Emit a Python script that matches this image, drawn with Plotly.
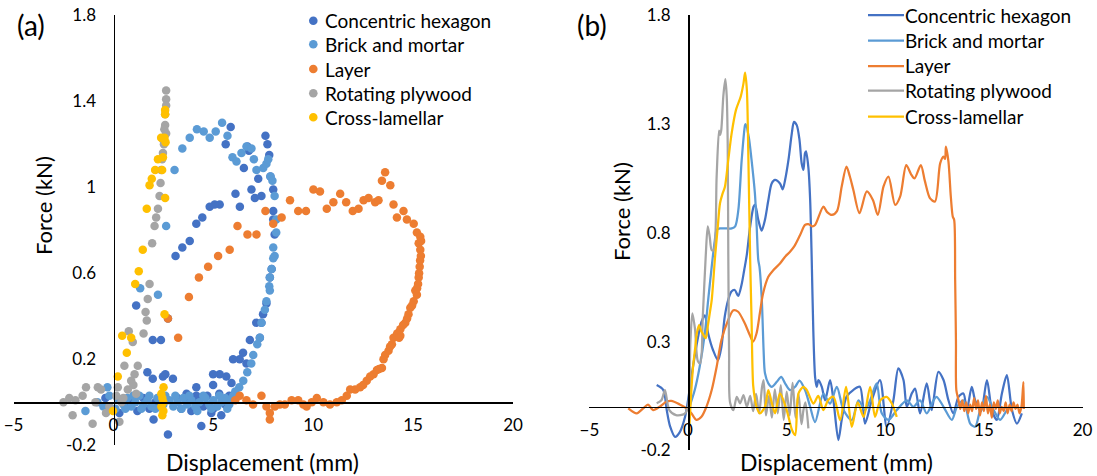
import plotly.graph_objects as go

# ---------------- (a) scatter data: (displacement mm, force kN) ----------------
hex_pts = [
    (5.87,1.28),(5.62,1.20),(7.61,1.24),(7.71,1.20),(6.71,1.19),(6.78,1.17),(7.80,1.15),(6.53,1.09),
    (7.25,1.04),(7.86,1.05),(8.00,0.99),(6.91,0.99),(7.08,0.95),(7.41,0.96),(6.11,0.97),(6.33,0.91),
    (5.32,0.92),(5.07,0.92),(4.82,0.91),(4.45,0.86),(4.15,0.83),(3.82,0.75),(3.45,0.72),(3.11,0.68),
    (8.00,0.89),(8.00,0.85),(8.07,0.78),(7.92,0.62),(7.83,0.58),(7.66,0.46),(7.49,0.41),(7.41,0.37),
    (7.33,0.30),(7.15,0.37),(6.83,0.29),(6.49,0.23),(6.32,0.20),(5.99,0.20),(6.66,0.18),(5.65,0.12),
    (5.32,0.13),(5.91,0.09),(4.99,0.13),(4.99,0.08),(4.15,0.07),(1.14,0.45),(2.73,0.39),(1.97,0.29),
    (2.38,0.29),(1.97,0.11),(2.48,0.12),(2.98,0.11),(3.66,0.04),(4.15,0.03),(1.70,0.14),(2.60,0.13),
    (2.01,-0.08),(2.73,-0.15),(4.40,-0.11),(4.90,-0.05),(5.40,-0.06),(0.30,-0.05),(0.60,-0.02),
    (0.90,0.01),(1.20,-0.04),(1.50,0.02),(1.80,-0.03),(2.10,0.00),(3.20,0.02),(3.40,-0.03),(3.70,0.01),
    (3.90,-0.04),(4.20,0.02),(4.50,-0.02),(4.70,0.03),(5.00,-0.03),(5.30,0.04),(5.60,-0.01),(5.80,0.03),
    (-0.40,0.02),
]
brick_pts = [
    (5.44,1.30),(5.12,1.26),(4.82,1.23),(4.52,1.26),(4.18,1.27),(3.82,1.23),(3.45,1.18),(3.06,1.08),
    (2.64,0.82),(5.71,1.24),(5.96,1.14),(6.16,1.12),(6.41,1.16),(6.66,1.19),(6.91,1.18),(7.03,1.13),
    (7.16,1.08),(7.50,1.09),(7.66,1.11),(7.75,1.13),(7.86,1.05),(7.96,1.03),(8.07,0.96),(8.15,0.85),
    (8.15,0.79),(8.00,0.72),(8.07,0.68),(8.00,0.67),(7.92,0.62),(7.83,0.58),(7.80,0.54),(7.83,0.52),
    (7.66,0.47),(7.58,0.43),(7.41,0.37),(7.33,0.30),(7.20,0.27),(7.00,0.22),(6.90,0.18),(6.70,0.14),
    (6.50,0.10),(6.30,0.07),(6.10,0.05),(2.23,0.50),(1.34,0.53),
    (-1.40,-0.04),(-0.80,0.00),(-0.50,-0.02),(-0.30,0.07),(-0.20,0.03),(0.10,-0.03),(0.30,0.01),
    (0.50,-0.01),(0.70,0.02),(0.90,-0.02),(1.10,0.00),(1.30,0.03),(1.50,-0.01),(1.70,0.01),(1.90,-0.02),
    (2.20,0.02),(2.50,-0.01),(2.80,0.01),(3.00,-0.02),(3.20,0.00),(3.50,0.02),(3.70,-0.01),(3.90,0.01),
    (4.10,-0.02),(4.30,0.00),(4.60,0.02),(4.80,-0.01),(5.00,0.01),(5.20,-0.02),(5.40,0.00),(5.60,0.02),
    (5.80,-0.01),(6.00,0.03),(0.20,0.02),(0.60,-0.03),(1.00,0.03),(1.40,-0.03),(1.80,0.03),(2.10,-0.03),
    (2.60,0.03),(3.10,0.03),(3.40,-0.03),(3.80,0.03),(4.20,-0.04),(4.50,0.03),(4.90,-0.03),(5.30,0.03),
    (5.70,-0.03),(5.90,0.01),
]
layer_pts = [
    (5.24,0.68),(4.74,0.63),(4.28,0.58),(3.78,0.49),(3.24,0.30),(2.73,0.39),(5.82,0.71),(6.21,0.82),
    (6.71,0.78),(7.16,0.78),(7.61,0.89),(8.00,0.83),(8.42,0.86),(8.84,0.94),(9.25,0.89),(9.64,0.89),
    (10.01,0.99),(10.34,0.98),(10.68,0.90),(11.01,0.93),(11.35,0.97),(11.65,0.93),(11.98,0.89),
    (12.27,0.90),(12.52,0.94),(12.77,0.95),(13.10,0.93),(13.27,0.94),(13.44,1.03),(13.60,1.07),
    (13.86,1.01),(14.02,0.92),(14.19,0.86),(14.52,0.89),(14.69,0.85),(15.03,0.83),(15.19,0.79),
    (15.36,0.77),(15.28,0.74),(15.36,0.71),(15.39,0.68),(15.33,0.63),(15.28,0.58),(15.11,0.52),
    (15.19,0.50),(15.03,0.47),(14.86,0.44),(14.77,0.41),(14.61,0.37),(14.36,0.34),(14.36,0.31),
    (14.02,0.30),(13.94,0.27),(13.77,0.24),(13.60,0.22),(13.52,0.20),(13.44,0.16),(13.19,0.15),
    (13.02,0.13),(12.85,0.12),(12.68,0.10),(12.35,0.07),(12.10,0.06),(11.85,0.06),(11.68,0.03),
    (11.43,0.01),(11.18,0.00),(10.84,-0.01),(10.51,0.00),(10.18,0.02),(9.93,0.00),(9.67,-0.02),
    (9.51,-0.01),(9.25,0.01),(8.92,0.01),(8.58,-0.01),(8.33,-0.01),(8.08,-0.02),(7.83,-0.05),
    (7.83,-0.08),(7.66,-0.02),(7.41,0.03),(6.99,-0.01),(6.66,0.01),(6.32,0.03),(6.10,0.01),
    (15.40,0.75),(15.35,0.66),(15.30,0.60),(15.25,0.55),(15.20,0.53),(14.95,0.45),(14.70,0.39),
    (14.50,0.36),(14.20,0.32),(13.85,0.26),(13.30,0.155),(12.50,0.08),(14.30,0.30),
]
plywood_pts = [
    (2.64,1.45),(2.64,1.41),(2.64,1.38),(2.59,1.34),(2.59,1.29),(2.64,1.25),(2.55,1.27),(2.53,1.20),
    (2.50,1.22),(2.48,1.16),(2.44,1.13),(2.39,1.08),(2.36,1.02),(2.31,0.96),(2.23,0.90),(2.14,0.86),
    (2.06,0.82),(1.94,0.74),(1.81,0.55),(1.72,0.48),(1.61,0.42),(1.67,0.38),(0.77,0.33),(1.51,0.32),
    (0.97,0.28),(0.55,0.17),(1.22,0.17),(1.06,0.13),(0.89,0.10),(0.72,0.06),(0.22,0.07),(0.14,0.03),
    (-0.78,0.07),(-0.62,0.06),(-1.37,0.07),(-1.54,0.03),(-2.21,0.02),(-2.04,-0.06),(-1.04,-0.10),
    (-0.37,-0.05),(0.30,-0.09),(-0.20,-0.02),(1.14,0.04),(-2.50,0.00),(-1.90,0.01),(-0.90,0.00),
    (0.50,0.02),(0.40,0.00),(1.00,0.08),
]
lamellar_pts = [
    (2.59,1.36),(2.59,1.34),(2.39,1.23),(2.56,1.23),(2.61,1.21),(2.23,1.13),(2.48,1.14),(2.09,1.08),
    (2.44,1.08),(1.92,1.04),(1.81,1.01),(2.59,0.95),(1.67,0.90),(1.47,0.71),(1.27,0.61),(1.09,0.55),
    (2.56,0.41),(0.44,0.31),(0.89,0.30),(0.67,0.23),(0.22,0.12),(2.51,0.07),(2.40,0.04),(2.45,0.02),
    (2.50,0.00),(2.40,-0.02),(2.50,-0.04),(2.45,-0.06),(-0.02,-0.04),
]

# ---------------- (b) line data: (displacement mm, force kN) ----------------
hex_line = [
    (-1.59,0.10),(-1.25,0.077),(-1.08,-0.015),(-0.91,-0.09),(-0.66,-0.138),(-0.41,-0.115),(-0.15,-0.046),
    (0.00,0.03),(0.25,0.184),(0.51,0.322),(0.68,0.39),(0.85,0.42),(1.02,0.337),(1.27,0.26),(1.52,0.214),
    (1.69,0.275),(1.86,0.414),(2.03,0.49),(2.20,0.53),(2.37,0.537),(2.54,0.51),(2.71,0.56),(2.85,0.63),
    (2.98,0.70),(3.15,0.83),(3.32,0.92),(3.40,0.93),(3.56,0.86),(3.73,0.81),(3.90,0.86),(4.07,0.95),
    (4.24,1.027),(4.41,1.043),(4.66,1.027),(4.80,1.00),(4.92,1.043),(5.09,1.135),(5.26,1.257),(5.37,1.31),
    (5.51,1.295),(5.65,1.227),(5.76,1.12),(5.85,1.089),(5.93,1.166),(5.98,1.174),(6.10,1.10),(6.19,0.95),
    (6.27,0.675),(6.35,0.35),(6.44,0.138),(6.52,0.092),(6.61,0.123),(6.78,0.092),(6.95,0.03),(7.20,0.123),
    (7.37,0.03),(7.62,-0.153),(7.79,-0.06),(8.03,0.046),(8.37,0.077),(8.71,0.092),(8.97,-0.077),(9.31,0.03),
    (9.73,0.123),(10.07,-0.092),(10.41,0.03),(10.66,0.177),(10.92,0.123),(11.09,0.00),(11.34,0.061),
    (11.51,0.084),(11.76,-0.03),(12.10,0.108),(12.35,-0.015),(12.69,0.161),(12.95,0.123),(13.20,0.03),
    (13.45,-0.03),(13.71,0.046),(13.96,0.061),(14.13,-0.015),(14.38,0.092),(14.55,0.03),(14.85,-0.02),
    (15.15,0.123),(15.40,-0.015),(15.65,-0.06),(15.91,0.061),(16.16,0.146),(16.42,-0.015),(16.67,-0.077),
    (16.92,-0.03),
]
brick_line = [
    (0.00,-0.02),(0.34,0.077),(0.59,0.184),(0.85,0.337),(1.02,0.49),(1.20,0.645),(1.35,0.76),(1.45,0.813),
    (1.62,0.82),(1.96,0.82),(2.21,0.82),(2.39,0.83),(2.55,0.905),(2.72,1.135),(2.89,1.295),(2.92,1.30),
    (3.08,1.24),(3.22,1.135),(3.39,0.98),(3.48,0.828),(3.56,0.675),(3.62,0.644),(3.74,0.49),(3.83,0.26),
    (3.90,0.154),(4.07,0.108),(4.24,0.092),(4.50,0.115),(4.72,0.138),(4.92,0.108),(5.17,0.077),(5.43,0.092),
    (5.65,0.12),(5.93,0.077),(6.19,0.00),(6.44,-0.07),(6.86,0.06),(7.20,0.015),(7.54,0.092),(7.88,-0.015),
    (8.30,-0.061),(8.64,0.03),(8.97,-0.015),(9.23,0.03),(9.56,0.108),(9.82,-0.03),(10.16,-0.06),
    (10.58,-0.015),(11.09,0.03),(11.42,0.00),(11.76,0.03),(12.10,-0.03),(12.44,0.03),(12.60,0.046),
    (12.95,0.00),(13.37,-0.06),(13.63,0.00),(13.96,0.03),(14.30,-0.077),(14.55,-0.092),(14.81,-0.015),
    (15.15,0.046),(15.49,-0.015),(15.82,-0.06),(16.16,-0.015),(16.30,0.00),
]
layer_line = [
    (-3.03,-0.007),(-2.60,-0.03),(-2.27,-0.007),(-2.03,0.01),(-1.77,-0.015),(-1.44,0.00),(-1.10,0.023),
    (-0.85,0.027),(-0.42,0.011),(-0.08,-0.007),(0.17,-0.03),(0.42,-0.06),(0.68,-0.046),(0.93,0.00),
    (1.20,0.077),(1.45,0.184),(1.69,0.306),(2.03,0.398),(2.30,0.444),(2.54,0.437),(2.88,0.383),(3.13,0.33),
    (3.30,0.30),(3.47,0.337),(3.64,0.43),(3.80,0.52),(4.07,0.598),(4.32,0.628),(4.66,0.659),(4.92,0.69),
    (5.17,0.713),(5.40,0.74),(5.68,0.79),(5.93,0.836),(6.10,0.84),(6.30,0.83),(6.44,0.836),(6.86,0.92),
    (7.05,0.895),(7.29,0.882),(7.55,0.90),(7.79,1.013),(8.03,1.104),(8.20,1.06),(8.38,0.997),(8.69,0.89),
    (9.06,0.99),(9.37,0.951),(9.62,0.882),(9.91,1.013),(10.16,1.058),(10.50,0.928),(10.75,0.966),
    (11.06,1.111),(11.30,1.07),(11.48,1.05),(11.80,1.111),(12.00,1.04),(12.27,0.958),(12.52,0.944),
    (12.78,1.119),(12.95,1.15),(13.03,1.14),(13.07,1.196),(13.20,1.127),(13.32,0.966),(13.42,0.874),
    (13.49,0.859),(13.54,0.583),(13.58,0.30),(13.60,0.077),(13.71,0.03),(13.80,-0.01),(13.90,0.03),
    (14.00,-0.02),(14.10,0.02),(14.20,-0.03),(14.30,0.01),(14.40,-0.02),(14.50,0.04),(14.60,-0.01),
    (14.70,0.03),(14.80,-0.04),(14.90,0.02),(15.00,-0.02),(15.10,0.05),(15.20,-0.03),(15.30,0.01),
    (15.40,-0.05),(15.50,0.02),(15.60,-0.01),(15.70,0.03),(15.80,-0.03),(15.90,0.00),(16.00,-0.02),
    (16.10,0.02),(16.20,-0.03),(16.30,0.01),(16.40,-0.02),(16.50,0.02),(16.60,-0.01),(16.70,0.01),
    (16.80,-0.03),(16.90,0.00),(16.95,0.05),(17.00,0.114),(17.02,-0.01),
]
plywood_line = [
    (-1.59,0.016),(-1.35,0.03),(-1.17,0.077),(-1.05,0.02),(-0.95,-0.015),(-0.61,-0.038),(-0.19,-0.033),
    (0.00,0.00),(0.12,0.30),(0.22,0.43),(0.35,0.36),(0.50,0.21),(0.62,0.20),(0.75,0.42),(0.90,0.70),
    (1.00,0.83),(1.10,0.78),(1.20,0.72),(1.30,0.72),(1.45,1.06),(1.57,1.27),(1.62,1.25),(1.68,1.27),
    (1.79,1.43),(1.89,1.506),(1.96,1.43),(2.01,1.21),(2.04,0.70),(2.08,0.25),(2.13,0.02),(2.30,-0.015),
    (2.47,0.046),(2.64,0.016),(2.81,0.054),(2.98,0.00),(3.15,0.05),(3.30,-0.02),(3.45,0.06),(3.60,-0.03),
    (3.75,0.09),(3.83,0.123),(3.95,-0.04),(4.10,0.05),(4.25,-0.05),(4.40,0.08),(4.55,-0.03),(4.70,0.10),
    (4.85,-0.06),(5.00,0.07),(5.15,-0.04),(5.30,0.11),(5.45,-0.05),(5.60,0.06),(5.75,-0.08),(5.85,-0.015),
    (5.95,0.02),(6.10,-0.099),
]
lamellar_line = [
    (0.05,-0.12),(0.15,0.05),(0.25,0.18),(0.35,0.26),(0.45,0.34),(0.56,0.376),(0.66,0.35),(0.76,0.334),
    (0.90,0.316),(1.00,0.37),(1.10,0.43),(1.20,0.49),(1.37,0.69),(1.50,0.82),(1.62,0.936),(1.75,0.98),
    (1.87,1.012),(2.04,1.135),(2.21,1.257),(2.43,1.365),(2.67,1.426),(2.81,1.487),(2.89,1.536),(2.98,1.46),
    (3.06,1.135),(3.15,0.675),(3.22,0.40),(3.30,0.10),(3.40,0.03),(3.47,0.00),(3.64,-0.03),(3.90,0.00),
    (4.07,0.077),(4.24,0.02),(4.41,-0.03),(4.66,0.062),(5.00,-0.015),(5.27,-0.107),(5.43,-0.13),(5.60,0.062),
    (5.85,0.092),(6.02,0.077),(6.36,0.015),(6.60,0.05),(6.86,-0.015),(7.10,0.03),(7.37,0.046),(7.71,-0.061),
    (8.01,0.092),(8.30,-0.092),(8.60,0.02),(8.90,-0.046),(9.23,0.092),(9.48,-0.046),(9.75,0.03),
    (10.07,0.046),(10.33,0.015),(10.58,-0.046),
]

names = ["Concentric hexagon", "Brick and mortar", "Layer", "Rotating plywood", "Cross-lamellar"]
colors = ["#4472C4", "#5B9BD5", "#ED7D31", "#A5A5A5", "#FFC000"]
scatter_sets = [hex_pts, brick_pts, layer_pts, plywood_pts, lamellar_pts]
line_sets = [hex_line, brick_line, layer_line, plywood_line, lamellar_line]

x_ticks = [-5, 0, 5, 10, 15, 20]
ya_ticks = [-0.2, 0.2, 0.6, 1.0, 1.4, 1.8]
ya_text = ["-0.2", "0.2", "0.6", "1", "1.4", "1.8"]
yb_ticks = [-0.2, 0.3, 0.8, 1.3, 1.8]
yb_text = ["-0.2", "0.3", "0.8", "1.3", "1.8"]

FONT = "Lato, Open Sans, sans-serif"
W, H = 1097, 476


def px_x(p):
    return p / W


def px_y(p):
    return 1 - p / H


fig = go.Figure()
for name, col, pts in zip(names, colors, scatter_sets):
    fig.add_trace(go.Scatter(
        x=[p[0] for p in pts], y=[p[1] for p in pts], mode="markers", name=name,
        marker=dict(color=col, size=8.5, line=dict(width=0)),
        xaxis="x", yaxis="y", showlegend=False))
for name, col, pts in zip(names, colors, line_sets):
    fig.add_trace(go.Scatter(
        x=[p[0] for p in pts], y=[p[1] for p in pts], mode="lines", name=name,
        line=dict(color=col, width=2.25, shape="spline", smoothing=0.8),
        xaxis="x2", yaxis="y2", showlegend=False))

base = dict(showgrid=False, zeroline=False, showline=True, linecolor="black", linewidth=1.5,
            ticks="outside", tickcolor="rgba(0,0,0,0)", anchor="free", ticklabeloverflow="allow",
            tickfont=dict(family=FONT, size=17, color="black"))
xbase = dict(base, ticklen=7)
ybase = dict(base, ticklen=14)

fig.update_layout(
    width=W, height=H, margin=dict(l=0, r=0, t=0, b=0, autoexpand=False),
    paper_bgcolor="white", plot_bgcolor="white",
    font=dict(family=FONT, color="black"),
    showlegend=False,
    xaxis=dict(domain=[px_x(13.5), px_x(513)], range=[-5, 20], tickvals=x_ticks,
               position=px_y(402.3), **xbase),
    yaxis=dict(domain=[px_y(445.3), px_y(15.3)], range=[-0.2, 1.8], tickvals=ya_ticks, ticktext=ya_text,
               position=px_x(113.5), **ybase),
    xaxis2=dict(domain=[px_x(589.4), px_x(1082.6)], range=[-5, 20], tickvals=x_ticks,
                position=px_y(406.8), **xbase),
    yaxis2=dict(domain=[px_y(450.3), px_y(15.3)], range=[-0.2, 1.8], tickvals=yb_ticks, ticktext=yb_text,
                position=px_x(688), **ybase),
)

# ---- manual legends (symbol shapes + text) ----
left_rows = [20.7, 44.3, 69.0, 93.3, 117.3]
right_rows = [15.0, 40.7, 66.0, 90.7, 116.7]
r = 4.3
for name, col, yc in zip(names, colors, left_rows):
    fig.add_shape(type="circle", xref="paper", yref="paper",
                  x0=px_x(313.3 - r), x1=px_x(313.3 + r), y0=px_y(yc + r), y1=px_y(yc - r),
                  fillcolor=col, line=dict(width=0))
    fig.add_annotation(text=name, xref="paper", yref="paper", x=px_x(323), y=px_y(yc),
                       xanchor="left", yanchor="middle", showarrow=False,
                       font=dict(family=FONT, size=19, color="black"))
for name, col, yc in zip(names, colors, right_rows):
    fig.add_shape(type="line", xref="paper", yref="paper",
                  x0=px_x(868), x1=px_x(904), y0=px_y(yc), y1=px_y(yc),
                  line=dict(color=col, width=2.25))
    fig.add_annotation(text=name, xref="paper", yref="paper", x=px_x(903), y=px_y(yc),
                       xanchor="left", yanchor="middle", showarrow=False,
                       font=dict(family=FONT, size=19, color="black"))

for txt, xc in (("(a)", 31), ("(b)", 592)):
    fig.add_annotation(text=txt, xref="paper", yref="paper", x=px_x(xc), y=px_y(25),
                       showarrow=False, xanchor="center", yanchor="middle",
                       font=dict(family=FONT, size=28, color="black"))
for xc, yc in ((43, 206), (621, 212)):
    fig.add_annotation(text="Force (kN)", xref="paper", yref="paper", x=px_x(xc), y=px_y(yc),
                       textangle=-90, showarrow=False, xanchor="center", yanchor="middle",
                       font=dict(family=FONT, size=22, color="black"))
for xc in (262.5, 836):
    fig.add_annotation(text="Displacement (mm)", xref="paper", yref="paper", x=px_x(xc), y=px_y(462),
                       showarrow=False, xanchor="center", yanchor="middle",
                       font=dict(family=FONT, size=23, color="black"))

# remove the browser's default page margin so the 1097x476 figure fills the window exactly
fig.write_html("out.html",
               config={"displayModeBar": False, "staticPlot": True},
               post_script="document.body.style.margin='0';"
                           "document.documentElement.style.overflow='hidden';")
